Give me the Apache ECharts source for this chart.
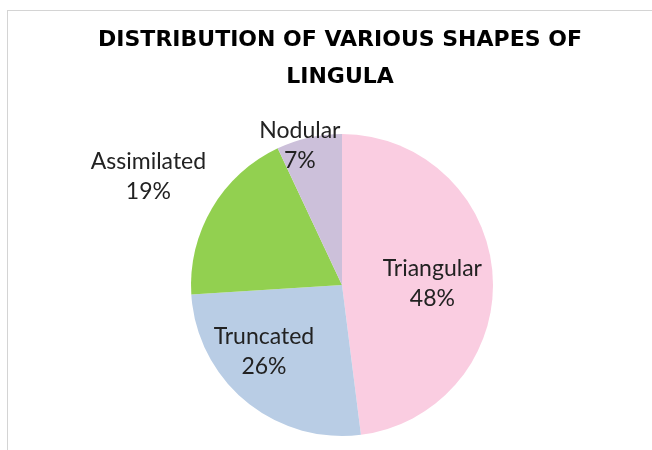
<!DOCTYPE html>
<html>
<head>
<meta charset="utf-8">
<script src="https://cdn.jsdelivr.net/npm/echarts@6/dist/echarts.min.js"></script>
<style>
  html, body { margin: 0; padding: 0; background: #fff; overflow: hidden; }
  #frame { position: absolute; left: 7px; top: 10px; width: 700px; height: 500px;
           border-left: 1px solid #d4d4d4; border-top: 1px solid #d4d4d4; }
  #main { position: absolute; left: 0; top: 0; width: 652px; height: 450px; }
</style>
</head>
<body>
<div id="frame"></div>
<div id="main"></div>
<script>
  // data
  const shapeNames = ['Triangular', 'Truncated', 'Assimilated', 'Nodular'];
  const shapeShares = [48, 26, 19, 7];
  const shapeColors = ['#FACDE1', '#B9CDE5', '#92D050', '#CCC0DA'];
  // label nudges from the default inside spot (Excel best-fit)
  const labelShift = [[12, 4], [-28, 6], [-126, -68], [-25, -63]];

  (function (w, d) {
    const chart = w.echarts.init(d.getElementById('main'));
    const seriesData = shapeNames.map((name, i) => ({
      name,
      value: shapeShares[i],
      itemStyle: { color: shapeColors[i] }
    }));

    chart.setOption({
      animation: false,
      title: {
        text: 'DISTRIBUTION OF VARIOUS SHAPES OF\nLINGULA',
        left: 335,
        top: 17,
        textAlign: 'center',
        textStyle: {
          fontFamily: 'DejaVu Sans',
          fontWeight: 'bold',
          fontSize: 22,
          lineHeight: 37,
          color: '#000'
        }
      },
      series: [{
        type: 'pie',
        center: [342, 285],
        radius: 151,
        startAngle: 90,
        clockwise: true,
        itemStyle: { borderWidth: 0 },
        label: {
          show: true,
          position: 'inside',
          formatter: '{b}\n{d}%',
          fontFamily: 'Lato',
          fontSize: 23,
          lineHeight: 30,
          color: '#222'
        },
        labelLine: { show: false },
        labelLayout: function (params) {
          const s = labelShift[params.dataIndex];
          return { dx: s[0], dy: s[1] };
        },
        emphasis: { disabled: true },
        data: seriesData
      }]
    });
  })(window, document);
</script>
</body>
</html>
